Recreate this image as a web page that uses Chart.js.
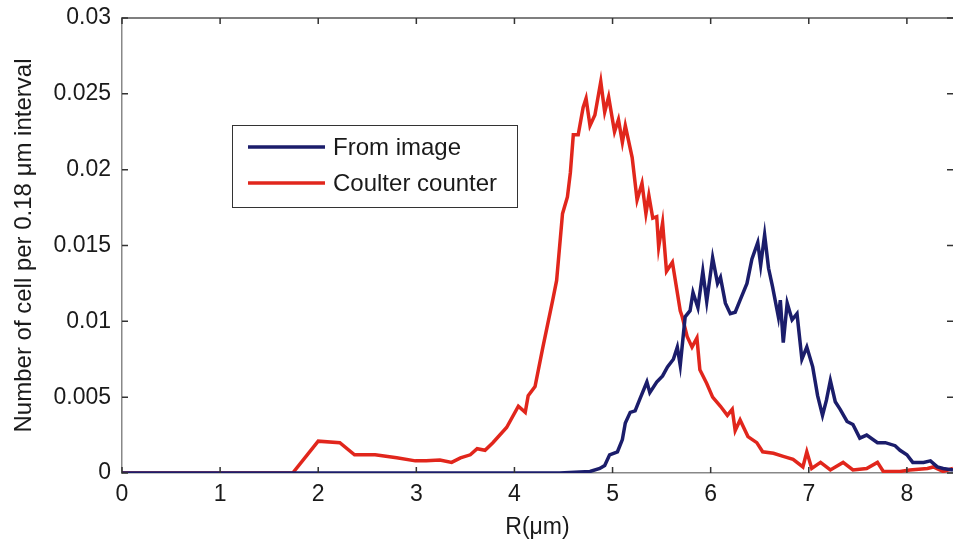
<!DOCTYPE html>
<html>
<head>
<meta charset="utf-8">
<script src="https://cdn.jsdelivr.net/npm/chart.js@4/dist/chart.umd.min.js"></script>
<style>
  html, body { margin: 0; padding: 0; background: #fff; }
  #wrap { width: 953px; height: 545px; }
</style>
</head>
<body>
<div id="wrap"><canvas id="c" width="953" height="545"></canvas></div>
<script>
// ── Data ──────────────────────────────────────────
var xTicks = [0, 1, 2, 3, 4, 5, 6, 7, 8];
var yTicks = [0, 0.005, 0.01, 0.015, 0.02, 0.025, 0.03];
var yTickLabels = ["0", "0.005", "0.01", "0.015", "0.02", "0.025", "0.03"];

var imageR = [0, 4.46, 4.77, 4.87, 4.92, 4.97, 5.05, 5.10, 5.13, 5.18, 5.23, 5.28, 5.35, 5.38, 5.45, 5.51, 5.56, 5.62, 5.66, 5.69,
  5.74, 5.79, 5.82, 5.87, 5.92, 5.96, 6.02, 6.07, 6.10, 6.15, 6.20, 6.25, 6.30, 6.37, 6.42, 6.48, 6.51, 6.55, 6.59, 6.63,
  6.69, 6.71, 6.74, 6.78, 6.83, 6.88, 6.93, 6.98, 7.04, 7.09, 7.14, 7.18, 7.22, 7.27, 7.32, 7.39, 7.45, 7.52, 7.59, 7.70,
  7.78, 7.88, 7.93, 8.00, 8.06, 8.17, 8.24, 8.31, 8.37, 8.47];
var imageN = [0, 0, 0.0001, 0.0003, 0.0005, 0.0012, 0.0014, 0.0022, 0.0033, 0.0040, 0.0041, 0.0049, 0.0060, 0.0053, 0.0060, 0.0064, 0.0070, 0.0075, 0.0083, 0.0071,
  0.0103, 0.0107, 0.0119, 0.0109, 0.0133, 0.0113, 0.0142, 0.0125, 0.0129, 0.0112, 0.0105, 0.0106, 0.0114, 0.0125, 0.0141, 0.0152, 0.0137, 0.0157, 0.0135, 0.0123,
  0.0103, 0.0114, 0.0086, 0.0112, 0.0101, 0.0105, 0.0075, 0.0083, 0.0070, 0.0051, 0.0038, 0.0048, 0.0061, 0.0047, 0.0042, 0.0034, 0.0032, 0.0023, 0.0025, 0.0020,
  0.0020, 0.0018, 0.0015, 0.0012, 0.0007, 0.0007, 0.0008, 0.0004, 0.0003, 0.0002];

var coulterR = [0, 1.74, 2.0, 2.22, 2.37, 2.58, 2.80, 2.99, 3.10, 3.24, 3.36, 3.45, 3.55, 3.62, 3.70, 3.78, 3.92, 4.04, 4.11, 4.14,
  4.21, 4.29, 4.39, 4.43, 4.49, 4.54, 4.57, 4.60, 4.65, 4.70, 4.73, 4.77, 4.82, 4.88, 4.92, 4.96, 5.02, 5.06, 5.10, 5.13,
  5.20, 5.25, 5.30, 5.34, 5.37, 5.41, 5.45, 5.47, 5.51, 5.55, 5.61, 5.69, 5.71, 5.76, 5.81, 5.86, 5.89, 5.96, 6.02, 6.10,
  6.17, 6.22, 6.25, 6.30, 6.38, 6.47, 6.53, 6.64, 6.74, 6.84, 6.94, 6.98, 7.03, 7.12, 7.22, 7.35, 7.45, 7.59, 7.70, 7.76,
  7.93, 8.03, 8.21, 8.27, 8.37, 8.47];
var coulterN = [0, 0, 0.0021, 0.0020, 0.0012, 0.0012, 0.0010, 0.0008, 0.0008, 0.00086, 0.0007, 0.0010, 0.0012, 0.0016, 0.0015, 0.0020, 0.0030, 0.0044, 0.0040, 0.0051,
  0.0057, 0.0083, 0.0114, 0.0127, 0.0171, 0.0182, 0.0198, 0.0223, 0.0223, 0.0241, 0.0247, 0.0229, 0.0236, 0.0258, 0.0238, 0.0248, 0.0225, 0.0233, 0.0218, 0.0229,
  0.0208, 0.0180, 0.0191, 0.0171, 0.0183, 0.0168, 0.0169, 0.0149, 0.0165, 0.0133, 0.0139, 0.0107, 0.0103, 0.0090, 0.0083, 0.0089, 0.0068, 0.0059, 0.0050, 0.0044,
  0.0038, 0.0042, 0.0028, 0.0035, 0.0024, 0.0020, 0.0014, 0.0013, 0.0011, 0.0009, 0.0004, 0.0014, 0.0003, 0.0007, 0.0002, 0.0007, 0.0002, 0.0003, 0.0007, 0.0001,
  0.0001, 0.0002, 0.0003, 0.0004, 0.0001, 0.0003];

function pts(xs, ys) {
  return xs.map(function (x, i) { return { x: x, y: ys[i] }; });
}

var FONT = "'Liberation Sans', Arial, sans-serif";
var TEXT = "#1a1a1a";

// ── Plugins: box, inward ticks, legend box ────────

var framePlugin = {
  id: "frame",
  afterDraw: function (chart) {
    var ctx = chart.ctx, a = chart.chartArea;
    var xs = chart.scales.x, ys = chart.scales.y;
    ctx.save();
    ctx.lineWidth = 1.5;
    ctx.strokeStyle = "#555";
    ctx.beginPath();
    ctx.moveTo(a.left, a.top); ctx.lineTo(a.right, a.top);
    ctx.stroke();
    ctx.strokeStyle = "#333";
    ctx.lineWidth = 1.5;
    xs.ticks.forEach(function (t) {
      var p = xs.getPixelForValue(t.value);
      ctx.beginPath();
      ctx.moveTo(p, a.bottom); ctx.lineTo(p, a.bottom - 6);
      ctx.moveTo(p, a.top); ctx.lineTo(p, a.top + 6);
      ctx.stroke();
    });
    ys.ticks.forEach(function (t) {
      var p = ys.getPixelForValue(t.value);
      ctx.beginPath();
      ctx.moveTo(a.left, p); ctx.lineTo(a.left + 6, p);
      ctx.moveTo(a.right, p); ctx.lineTo(a.right - 6, p);
      ctx.stroke();
    });

    // legend box
    var bx = 232, by = 125, bw = 285, bh = 82;
    ctx.fillStyle = "#fff";
    ctx.fillRect(bx, by, bw, bh);
    ctx.strokeStyle = "#333";
    ctx.lineWidth = 1;
    ctx.strokeRect(bx + 0.5, by + 0.5, bw, bh);
    ctx.font = "24px " + FONT;
    ctx.textBaseline = "middle";
    chart.data.datasets.forEach(function (ds, i) {
      var yy = by + 22 + i * 36;
      ctx.strokeStyle = ds.borderColor;
      ctx.lineWidth = 3.5;
      ctx.beginPath();
      ctx.moveTo(bx + 16, yy); ctx.lineTo(bx + 93, yy);
      ctx.stroke();
      ctx.fillStyle = TEXT;
      ctx.fillText(ds.label, bx + 101, yy + 1);
    });
    ctx.restore();
  }
};

// ── Chart ─────────────────────────────────────────

new Chart(document.getElementById("c"), {
  type: "line",
  data: {
    datasets: [
      { label: "From image", data: pts(imageR, imageN), borderColor: "#1b1d6b", borderWidth: 3.5, pointRadius: 0, tension: 0, fill: false },
      { label: "Coulter counter", data: pts(coulterR, coulterN), borderColor: "#e1261c", borderWidth: 3.5, pointRadius: 0, tension: 0, fill: false }
    ]
  },
  options: {
    responsive: false, animation: false,
    layout: { padding: { top: 18, right: 0, bottom: 0, left: 0 } },
    plugins: { legend: { display: false }, tooltip: { enabled: false } },
    scales: {
      x: {
        type: "linear", min: 0, max: 8.47,
        afterBuildTicks: function (s) { s.ticks = xTicks.map(function (v) { return { value: v }; }); },
        afterFit: function (s) { s.height = 72; s.paddingLeft = 0; s.paddingRight = 0; },
        grid: { display: false, drawTicks: false },
        border: { display: true, color: "#888", width: 1.5 },
        ticks: { color: TEXT, font: { family: FONT, size: 23 }, padding: 8, maxRotation: 0 },
        title: { display: true, text: "R(\u03BCm)", color: TEXT, font: { family: FONT, size: 23 }, padding: { top: 0 } }
      },
      y: {
        min: 0, max: 0.03,
        afterBuildTicks: function (s) { s.ticks = yTicks.map(function (v) { return { value: v }; }); },
        afterFit: function (s) { s.width = 122; s.paddingTop = 0; s.paddingBottom = 0; },
        grid: { display: false, drawTicks: false },
        border: { display: true, color: "#888", width: 1.5 },
        ticks: {
          color: TEXT, font: { family: FONT, size: 23 }, padding: 11,
          callback: function (v) { var i = yTicks.indexOf(v); return i >= 0 ? yTickLabels[i] : ""; }
        },
        title: { display: true, text: "Number of cell per 0.18 \u03BCm interval", color: TEXT, font: { family: FONT, size: 24 }, padding: { top: 10, bottom: 0 } }
      }
    }
  },
  plugins: [framePlugin]
});
</script>
</body>
</html>
